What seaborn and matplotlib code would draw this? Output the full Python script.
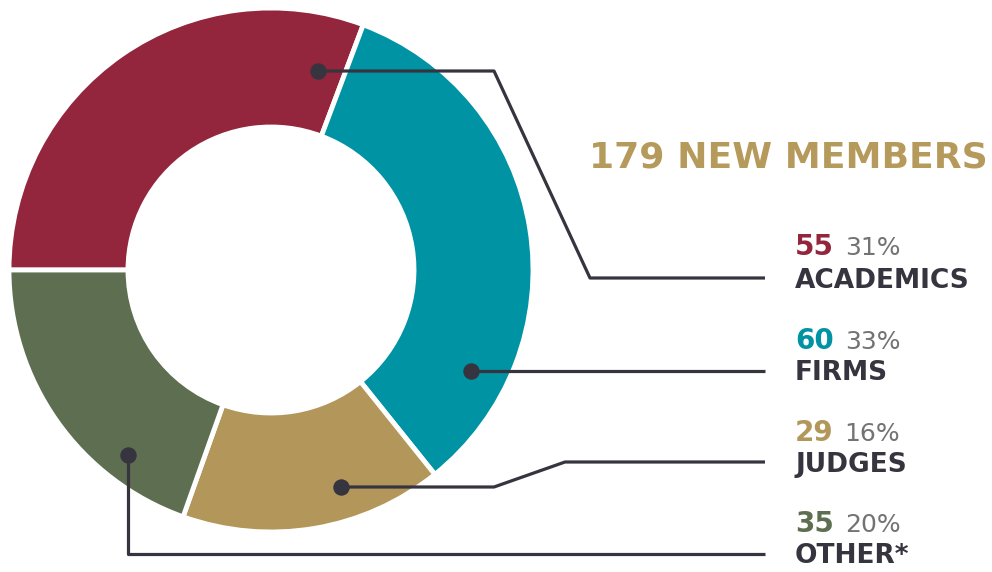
import matplotlib
matplotlib.use("Agg")
import matplotlib.pyplot as plt
import seaborn as sns

# ---- data ----
categories = ["ACADEMICS", "FIRMS", "JUDGES", "OTHER*"]
counts = [55, 60, 29, 35]
percents = ["31%", "33%", "16%", "20%"]
total_label = "179 NEW MEMBERS"
colors = ["#93263d", "#0093a4", "#b39659", "#5e6e51"]

sns.set_theme(style="white")
plt.rcParams["font.family"] = ["DejaVu Sans"]

W, H = 992, 572
fig = plt.figure(figsize=(W / 100, H / 100), dpi=100)
ax = fig.add_axes([0, 0, 1, 1])

def Y(py):  # pixel row -> data y
    return H - py

cx, cy, R, r_in = 271, Y(270), 262, 143
ax.pie(counts, colors=colors, startangle=180, counterclock=False,
       center=(cx, cy), radius=R, frame=True,
       wedgeprops=dict(width=R - r_in, edgecolor="white", linewidth=3.5))
ax.set_xlim(0, W)
ax.set_ylim(0, H)
ax.set_aspect("equal")
ax.axis("off")

line_col = "#35343f"
# connector layout (pixel coordinates)
paths = [
    [(318, 71), (494, 71), (590, 278), (765, 278)],
    [(471, 371), (765, 371)],
    [(341, 487), (494, 487), (565, 462), (765, 462)],
    [(128, 455), (128, 554), (765, 554)],
]
for p in paths:
    xs = [q[0] for q in p]
    ys = [Y(q[1]) for q in p]
    ax.plot(xs, ys, color=line_col, lw=2.3, solid_capstyle="butt", zorder=3)
    ax.scatter([xs[0]], [ys[0]], s=140, color=line_col, zorder=4, linewidths=0)

ax.text(589, Y(167), total_label, color="#b59a5b", fontsize=26,
        fontweight="bold", va="baseline", ha="left")

num_base = [255, 349, 441, 532]
lab_base = [288, 380, 472, 563]
fig.canvas.draw()
renderer = fig.canvas.get_renderer()
for i, cat in enumerate(categories):
    t = ax.text(795, Y(num_base[i]), str(counts[i]), color=colors[i],
                fontsize=20, fontweight="bold", va="baseline", ha="left")
    bb = t.get_window_extent(renderer=renderer)
    ax.text(bb.x1 + 11, Y(num_base[i]), percents[i], color="#737373",
            fontsize=18, va="baseline", ha="left")
    ax.text(795, Y(lab_base[i]), cat, color=line_col, fontsize=19,
            fontweight="bold", va="baseline", ha="left")

fig.savefig("out.png", dpi=100)
